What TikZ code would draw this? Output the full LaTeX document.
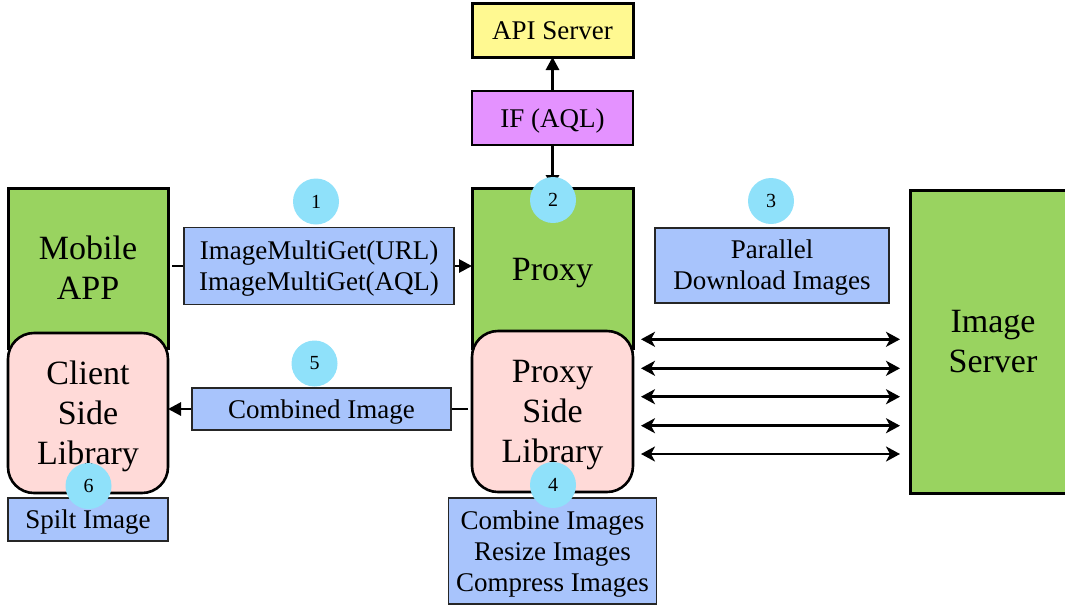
\documentclass[tikz,border=0pt]{standalone}
\usepackage{fontspec}
\setmainfont{Liberation Serif}
\usetikzlibrary{arrows.meta}
\definecolor{appgreen}{RGB}{153,211,96}
\definecolor{libpink}{RGB}{255,218,216}
\definecolor{msgblue}{RGB}{168,196,252}
\definecolor{stepcyan}{RGB}{143,225,250}
\definecolor{apiyellow}{RGB}{255,249,145}
\definecolor{ifviolet}{RGB}{228,146,255}
\pgfdeclarelayer{boxes}
\pgfdeclarelayer{wires}
\pgfsetlayers{boxes,wires,main}
% centred block of lines; extra height on top lowers it by #1 inside its box
\newcommand\textlines[2][3pt]{\raisebox{0pt}[\dimexpr\height+#1+#1\relax][\depth]{\begin{tabular}{@{}c@{}}#2\end{tabular}}}
\begin{document}
\begin{tikzpicture}[x=1pt,y=-1pt,
  bigtext/.style={font=\fontsize{34}{40}\selectfont},
  tier/.style={draw=black, line width=3pt, fill=appgreen, inner sep=0pt, outer sep=0pt, bigtext},
  lib/.style={draw=black, line width=2.6pt, fill=libpink, rounded corners=26pt, inner sep=0pt, outer sep=0pt, bigtext},
  endpoint/.style={draw=black, inner sep=0pt, outer sep=0pt, font=\fontsize{27}{31}\selectfont},
  msg/.style={draw=black!85, line width=1.6pt, fill=msgblue, inner sep=0pt, outer sep=0pt, font=\fontsize{27}{31}\selectfont},
  badge/.style={circle, fill=stepcyan, minimum size=46pt, inner sep=0pt, font=\fontsize{20}{20}\selectfont},
  flow/.style={line width=2.8pt, -{Triangle[length=13pt,width=13pt]}},
  both/.style={line width=2.8pt, {Stealth[length=14pt,width=15pt,inset=4pt]}-{Stealth[length=14pt,width=15pt,inset=4pt]}}
]
\useasboundingbox (0,0) rectangle (1065,606);

% components
\begin{pgfonlayer}{boxes}
  \node[endpoint, line width=3pt, fill=apiyellow, minimum width=161pt, minimum height=54pt] (api) at (552.5,30) {\textlines[3.1pt]{API Server}};
  \node[endpoint, line width=2pt, fill=ifviolet, minimum width=161pt, minimum height=54pt] (ifaql) at (552.5,118) {\textlines[3.4pt]{IF (AQL)}};
  \node[tier, minimum width=160pt, minimum height=160pt] (mobile) at (88,268) {\textlines[3.9pt]{Mobile\\APP}};
  \node[tier, minimum width=161pt, minimum height=160pt] (proxy) at (552.5,268) {\textlines[4.8pt]{Proxy}};
  \node[lib, minimum width=160pt, minimum height=160pt] (client) at (88,413) {\textlines[3.2pt]{Client\\Side\\Library}};
  \node[lib, minimum width=161pt, minimum height=161pt] (plib) at (552.5,411.5) {\textlines[2.8pt]{Proxy\\Side\\Library}};
  \node[tier, minimum width=166pt, minimum height=303pt] (imgsrv) at (993,341.5) {\textlines[3.2pt]{Image\\Server}};
\end{pgfonlayer}

% messages and steps
\node[msg, minimum width=270pt, minimum height=77pt] (m1) at (319,266) {\textlines[2.8pt]{ImageMultiGet(URL)\\ImageMultiGet(AQL)}};
\node[msg, minimum width=234pt, minimum height=75pt] (m3) at (772,265.5) {\textlines[2.3pt]{Parallel\\Download Images}};
\node[msg, minimum width=259pt, minimum height=42pt] (m5) at (321.5,409) {\textlines[2.8pt]{Combined Image}};
\node[msg, minimum width=160pt, minimum height=43pt] (m6) at (88,519.5) {\textlines[2.8pt]{Spilt Image}};
\node[msg, minimum width=208pt, minimum height=106pt] (m4) at (552.5,551) {\textlines[2.8pt]{Combine Images\\Resize Images\\Compress Images}};

\begin{pgfonlayer}{wires}
  \draw[flow] (ifaql.north) -- (api.south);
  \draw[flow] (ifaql.south) -- (proxy.north);
  \draw[flow, shorten <=4pt] (mobile.east |- m1) -- (proxy.west |- m1);
  \draw[flow, shorten <=4pt] (plib.west |- m5) -- (client.east |- m5);
  \foreach \yy in {339.3,368.3,396.7,425.7,454}
    \draw[both, shorten <=8pt, shorten >=10pt] (plib.east |- 0,\yy) -- (imgsrv.west |- 0,\yy);
\end{pgfonlayer}

\node[badge] (s1) at (316,201.5) {1};
\node[badge] (s2) at (553,200) {2};
\node[badge] (s3) at (771,201) {3};
\node[badge] (s4) at (553,485) {4};
\node[badge] (s5) at (314.5,363.5) {5};
\node[badge] (s6) at (88.5,486) {6};
\end{tikzpicture}
\end{document}
